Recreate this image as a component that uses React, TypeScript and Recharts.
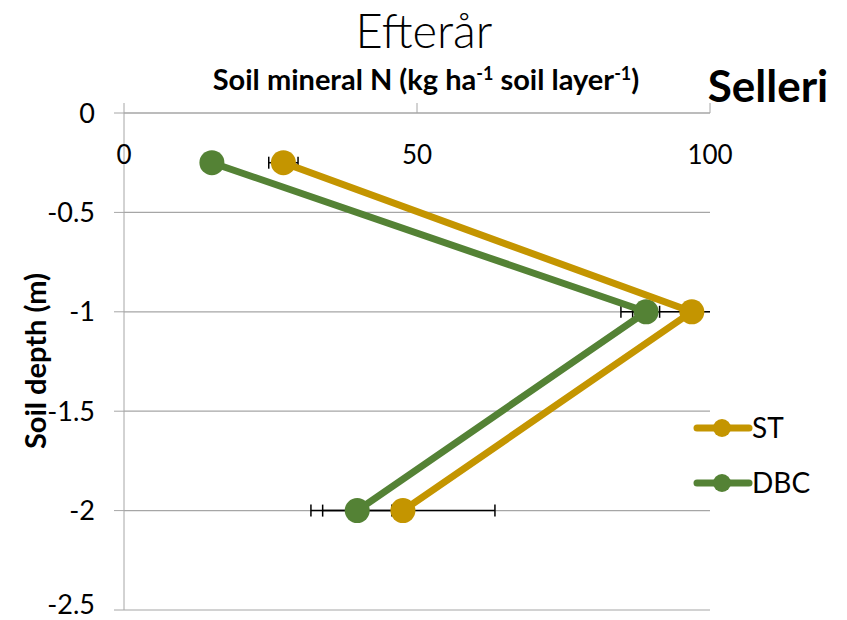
import React from 'react';
import { ScatterChart, Scatter, XAxis, YAxis, CartesianGrid } from 'recharts';

const depths = [-0.25, -1, -2];
const stValues = [27.2, 96.9, 47.6];
const dbcValues = [15.0, 89.1, 39.8];
const stErrors = [2.5, 12.1, 15.7];
const dbcErrors = [1.5, 2.3, 5.9];
const xTicks = [0, 50, 100];
const yTicks = [0, -0.5, -1, -1.5, -2, -2.5];
const seriesNames = ['ST', 'DBC'];

const ST_COLOR = '#C49500';
const DBC_COLOR = '#548235';
const AXIS_COLOR = '#A6A6A6';
const FONT = 'Lato, "Noto Sans", sans-serif';

const stData = depths.map((d, i) => ({ x: stValues[i], y: d, err: stErrors[i] }));
const dbcData = depths.map((d, i) => ({ x: dbcValues[i], y: d, err: dbcErrors[i] }));

// each error bar as a two-point segment, placed by the chart's own scales
const errorSegments = [...stData, ...dbcData].map((p) => [
  { x: p.x - p.err, y: p.y },
  { x: p.x + p.err, y: p.y },
]);

const makeDot = (color: string) => (props: any) => (
  <circle cx={props.cx} cy={props.cy} r={12.5} fill={color} />
);
const capShape = (props: any) => (
  <line x1={props.cx} x2={props.cx} y1={props.cy - 6} y2={props.cy + 6} stroke="#000" strokeWidth={1.5} />
);

const XTick = (props: any) => (
  <text x={props.x} y={props.y + 63} textAnchor="middle" fontSize={26} fontFamily={FONT} fill="#000">
    {props.payload.value}
  </text>
);

const legendItems = [
  { name: seriesNames[0], color: ST_COLOR },
  { name: seriesNames[1], color: DBC_COLOR },
];

export default function App() {
  return (
    <div style={{ position: 'absolute', left: 0, top: 0, width: 847, height: 620, background: '#fff' }}>
      <ScatterChart width={847} height={620} margin={{ top: 83, right: 137, bottom: 10, left: 0 }}>
        <CartesianGrid vertical={false} stroke={AXIS_COLOR} strokeWidth={1.2} />
        <XAxis
          type="number"
          dataKey="x"
          orientation="top"
          domain={[0, 100]}
          allowDataOverflow
          ticks={xTicks}
          height={30}
          tickSize={10}
          stroke={AXIS_COLOR}
          tick={<XTick />}
        />
        <YAxis
          type="number"
          dataKey="y"
          domain={[-2.5, 0]}
          allowDataOverflow
          ticks={yTicks}
          width={124}
          tickSize={10}
          tickMargin={19}
          stroke={AXIS_COLOR}
          tick={{ fontSize: 27, fill: '#000', fontFamily: FONT }}
        />
        {errorSegments.map((seg, i) => (
          <Scatter
            key={'err' + i}
            data={seg}
            line={{ stroke: '#000', strokeWidth: 1.5 }}
            shape={capShape}
            legendType="none"
            isAnimationActive={false}
          />
        ))}
        <Scatter
          name={seriesNames[1]}
          data={dbcData}
          fill={DBC_COLOR}
          line={{ stroke: DBC_COLOR, strokeWidth: 7 }}
          shape={makeDot(DBC_COLOR)}
          isAnimationActive={false}
        />
        <Scatter
          name={seriesNames[0]}
          data={stData}
          fill={ST_COLOR}
          line={{ stroke: ST_COLOR, strokeWidth: 7 }}
          shape={makeDot(ST_COLOR)}
          isAnimationActive={false}
        />
      </ScatterChart>
      <svg width={847} height={620} style={{ position: 'absolute', left: 0, top: 0, pointerEvents: 'none' }}>
        <text x={424} y={48} textAnchor="middle" fontSize={47} fontWeight={300} fontFamily={FONT} fill="#000">
          Efterår
        </text>
        <text x={426} y={90} textAnchor="middle" fontSize={29} fontWeight={700} fontFamily={FONT} fill="#000">
          Soil mineral N (kg ha<tspan fontSize={18} dy={-10}>-1</tspan>
          <tspan dy={10}> soil layer</tspan>
          <tspan fontSize={18} dy={-10}>-1</tspan>
          <tspan dy={10}>)</tspan>
        </text>
        <text x={768} y={102} textAnchor="middle" fontSize={44} fontWeight={700} fontFamily={FONT} fill="#000">
          Selleri
        </text>
        <text
          x={0}
          y={0}
          transform="translate(46,361) rotate(-90)"
          textAnchor="middle"
          fontSize={29}
          fontWeight={700}
          fontFamily={FONT}
          fill="#000"
        >
          Soil depth (m)
        </text>
        {legendItems.map((it, i) => {
          const cy = 428 + i * 55;
          return (
            <g key={it.name}>
              <line x1={697} x2={749} y1={cy} y2={cy} stroke={it.color} strokeWidth={7} strokeLinecap="round" />
              <circle cx={722} cy={cy} r={9} fill={it.color} />
              <text x={752} y={cy + 10} fontSize={28} fontFamily={FONT} fill="#000">{it.name}</text>
            </g>
          );
        })}
      </svg>
    </div>
  );
}
